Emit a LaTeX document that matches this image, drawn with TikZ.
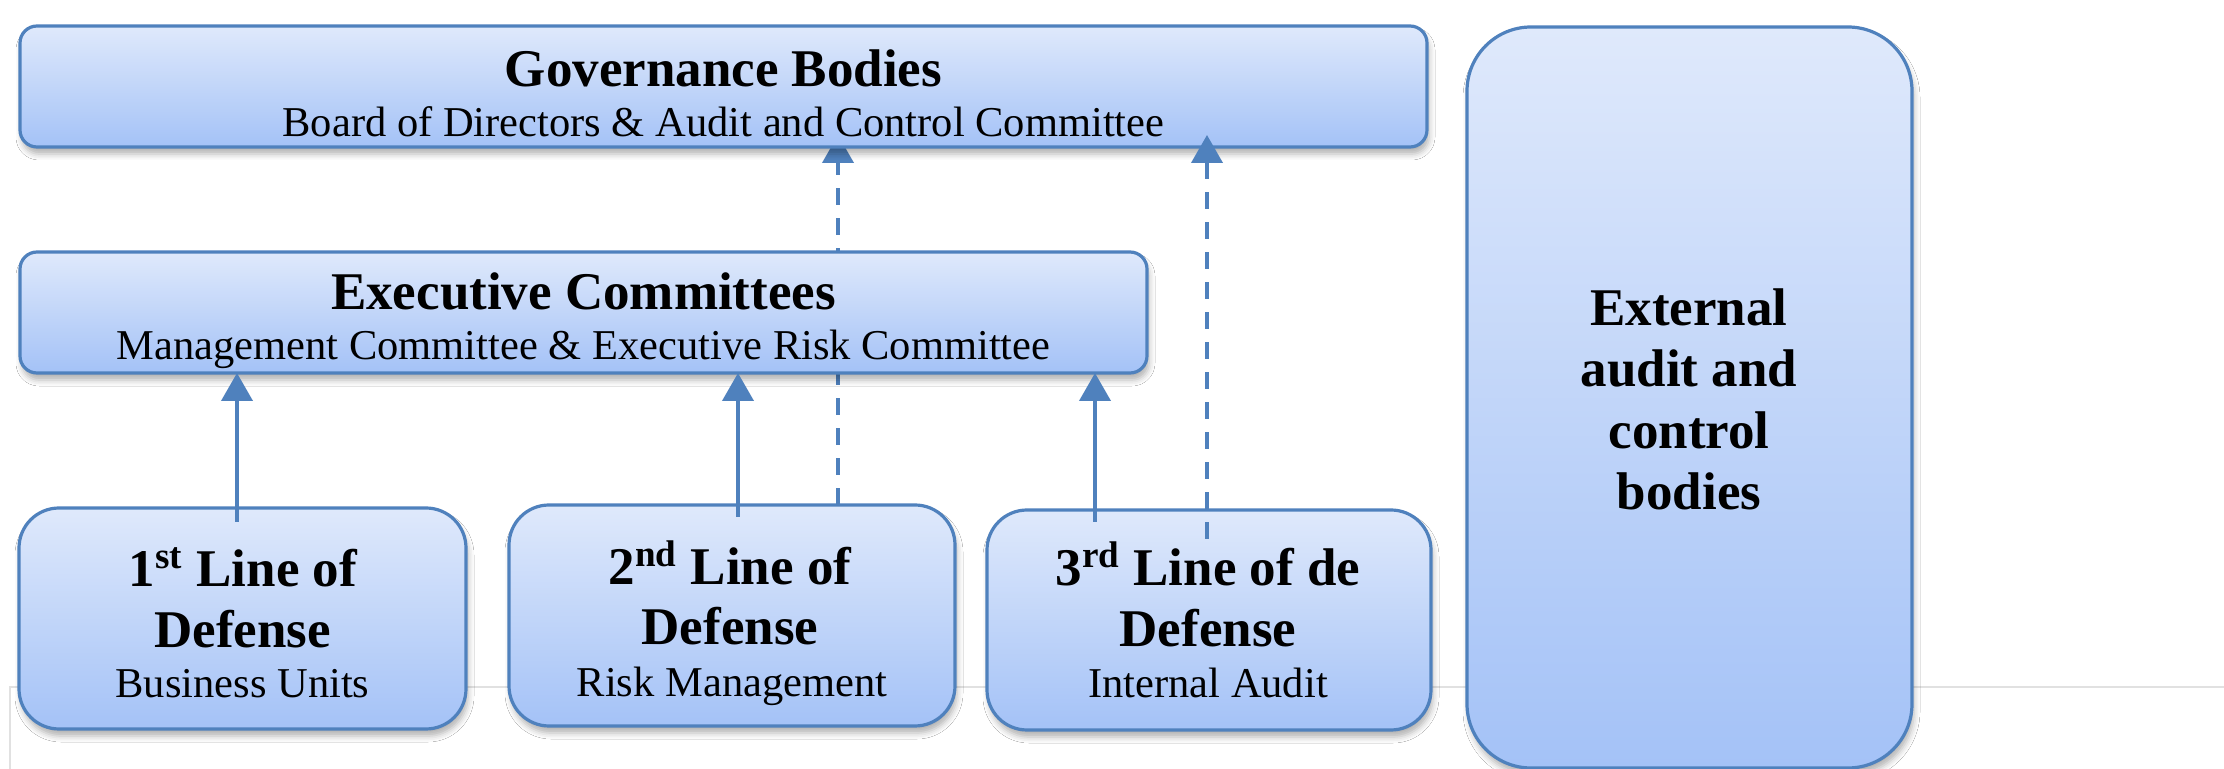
\documentclass[tikz,border=0pt]{standalone}
\usepackage{fontspec}
\setmainfont{Liberation Serif}
\usetikzlibrary{arrows.meta,shadows.blur}
\pgfdeclarelayer{back}
\pgfsetlayers{back,main}

\definecolor{edgeblue}{RGB}{79,129,189}
\definecolor{filltop}{RGB}{223,233,251}
\definecolor{fillbot}{RGB}{164,194,247}
\definecolor{pageline}{RGB}{225,225,225}

\newcommand{\headfont}{\fontsize{26.5}{30}\selectfont\bfseries}
\newcommand{\subfont}{\fontsize{21.25}{25}\selectfont}

\begin{document}
\begin{tikzpicture}[x=0.5pt,y=-0.5pt,
  panel/.style={draw=edgeblue, line width=1.6pt, top color=filltop, bottom color=fillbot,
    inner sep=0pt, outer sep=0pt,
    blur shadow={shadow xshift=1pt, shadow yshift=-3.5pt, shadow blur radius=3pt, shadow opacity=30}},
  headline/.style={anchor=base, inner sep=0pt, font=\headfont},
  subline/.style={anchor=base, inner sep=0pt, font=\subfont},
  link/.style={color=edgeblue, line width=2pt, -{Triangle[width=15.5pt,length=14pt]}},
  dashlink/.style={link, dash pattern=on 8.5pt off 6.5pt},
]
\useasboundingbox (0,0) rectangle (2224,769);

% boxes
\node[panel, rounded corners=8.5pt, minimum width=703.5pt, minimum height=60.5pt] (gov) at (723.5,86.5) {};
\node[panel, rounded corners=8.5pt, minimum width=563.5pt, minimum height=60.5pt] (exec) at (583.5,312.5) {};
\node[panel, rounded corners=20pt, minimum width=223.5pt, minimum height=110.5pt] (b1) at (242.5,618.5) {};
\node[panel, rounded corners=20pt, minimum width=223pt, minimum height=110.5pt] (b2) at (732,615.5) {};
\node[panel, rounded corners=20pt, minimum width=222pt, minimum height=110pt] (b3) at (1209,620) {};
\node[panel, rounded corners=32pt, minimum width=222.5pt, minimum height=370.5pt] (ext) at (1689.5,397.5) {};

% texts
\node[headline] (govtitle) at (723.5,87) {Governance Bodies};
\node[subline] (govsub) at (723.5,137) {Board of Directors \& Audit and Control Committee};

\node[headline] (exectitle) at (583.5,310) {Executive Committees};
\node[subline] (execsub) at (583.5,360) {Management Committee \& Executive Risk Committee};

\node[headline] (b1a) at (243,587) {1\textsuperscript{st} Line of};
\node[headline] (b1b) at (242.5,648) {Defense};
\node[subline] (b1c) at (242.5,698) {Business Units};

\node[headline] (b2a) at (730,585) {2\textsuperscript{nd} Line of};
\node[headline] (b2b) at (730,645) {Defense};
\node[subline] (b2c) at (732,697) {Risk Management};

\node[headline] (b3a) at (1208,586) {3\textsuperscript{rd} Line of de};
\node[headline] (b3b) at (1208,647) {Defense};
\node[subline] (b3c) at (1208,698) {Internal Audit};

\node[headline] (exta) at (1689,326) {External};
\node[headline] (extb) at (1689,387) {audit and};
\node[headline] (extc) at (1689,449) {control};
\node[headline] (extd) at (1689,510) {bodies};

% connector anchors
\coordinate (s1) at ([xshift=-2.75pt, yshift=-7pt]b1.north);
\coordinate (s2) at ([xshift=3pt, yshift=-6pt]b2.north);
\coordinate (s3) at ([xshift=-57pt, yshift=-6pt]b3.north);
\coordinate (d1) at ([xshift=53pt]b2.north);
\coordinate (d2) at ([xshift=-1pt, yshift=-14.5pt]b3.north);
\coordinate (d1top) at (d1 |- gov.south);
\coordinate (d2top) at (d2 |- gov.south);

% white page, page edge lines and the reporting line hidden behind the committee boxes
\begin{pgfonlayer}{back}
  \fill[white] (0,0) rectangle (2224,769);
  \draw[pageline, line width=0.6pt] (2224,687) -- (10,687) -- (10,769);
  \draw[dashlink] (d1) -- ([yshift=6pt]d1top);
\end{pgfonlayer}

% reporting lines
\draw[link] (s1) -- (s1 |- exec.south);
\draw[link] (s2) -- (s2 |- exec.south);
\draw[link] (s3) -- (s3 |- exec.south);
\draw[dashlink] (d2) -- ([yshift=6pt]d2top);
\end{tikzpicture}
\end{document}
